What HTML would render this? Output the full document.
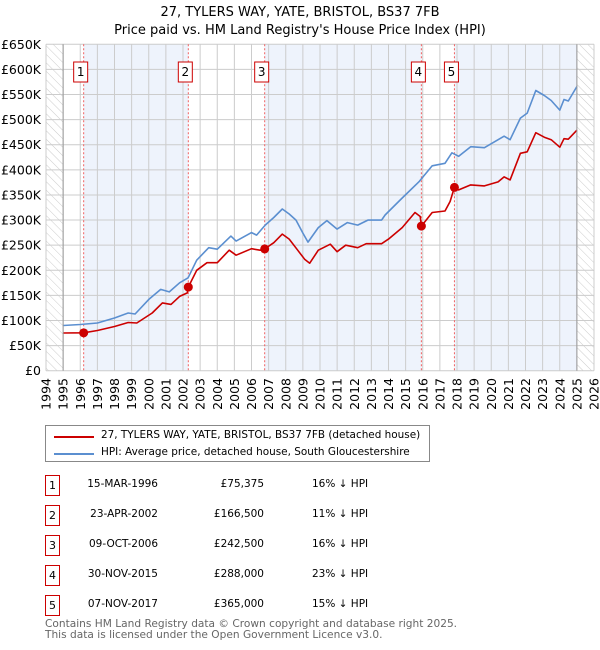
<!DOCTYPE html>
<html><head><meta charset="utf-8"><style>
body{margin:0;background:#fff;font-family:"DejaVu Sans","Liberation Sans",sans-serif;}
#wrap{position:relative;width:600px;height:650px;overflow:hidden;}
.t{position:absolute;font-size:10.5px;color:#000;white-space:nowrap;}
</style></head><body>
<div id="wrap">
<svg id="chart" width="600" height="420" style="position:absolute;left:0;top:0">
<defs><pattern id="hatch" width="6" height="6" patternUnits="userSpaceOnUse" patternTransform="rotate(-45)"><line x1="0" y1="0" x2="0" y2="6" stroke="#ccc" stroke-width="1"/></pattern></defs>
<text x="300" y="16" text-anchor="middle" font-size="13" font-family="DejaVu Sans, sans-serif">27, TYLERS WAY, YATE, BRISTOL, BS37 7FB</text>
<text x="300" y="34" text-anchor="middle" font-size="13" font-family="DejaVu Sans, sans-serif">Price paid vs. HM Land Registry's House Price Index (HPI)</text>
<g id="bg"></g><g id="grid"></g><g id="vlines"></g><g id="series"></g><g id="axes"></g>
</svg>
<div class="t" style="left:45px;top:425px;width:383px;height:35px;border:1px solid #888;">
 <div style="position:absolute;left:8px;top:10px;width:40px;height:2px;background:#cc0000"></div>
 <div style="position:absolute;left:55px;top:3px;font-size:10.45px">27, TYLERS WAY, YATE, BRISTOL, BS37 7FB (detached house)</div>
 <div style="position:absolute;left:8px;top:27px;width:40px;height:2px;background:#5b8fd0"></div>
 <div style="position:absolute;left:55px;top:20px;font-size:10.45px">HPI: Average price, detached house, South Gloucestershire</div>
</div>
<div id="table"></div>
<div class="t" style="left:45px;top:619px;color:#666;font-size:10.6px;line-height:11px">Contains HM Land Registry data © Crown copyright and database right 2025.<br>This data is licensed under the Open Government Licence v3.0.</div>
</div>
<script>
const hpiYears=[1995,1996,1997,1998,1998.8,1999.2,2000,2000.7,2001.2,2001.8,2002.3,2002.8,2003.5,2004,2004.8,2005.1,2006,2006.3,2006.8,2007.3,2007.8,2008.2,2008.6,2009.0,2009.3,2009.9,2010.4,2011.0,2011.6,2012.2,2012.8,2013.6,2013.8,2014.8,2015.8,2016.55,2017.3,2017.7,2018.1,2018.8,2019.6,2020.75,2021.1,2021.7,2022.1,2022.6,2023.1,2023.5,2024.0,2024.25,2024.5,2025.0];
const hpiValues=[90,92,95,105,115,113,142,162,157,175,185,220,245,242,268,258,275,270,290,305,322,312,300,274,256,285,299,282,295,290,300,300,310,344,377,408,413,434,427,446,444,467,460,503,513,558,548,538,519,540,537,566];
const priceYears=[1995,1996.2,1997,1998,1998.8,1999.3,2000.2,2000.8,2001.3,2001.8,2002.25,2002.31,2002.8,2003.4,2004,2004.7,2005.1,2006,2006.5,2006.77,2007.3,2007.8,2008.2,2008.7,2009.1,2009.4,2009.9,2010.6,2011.0,2011.5,2012.2,2012.7,2013.6,2014.0,2014.8,2015.55,2015.85,2015.92,2016.55,2017.3,2017.6,2017.85,2018.1,2018.8,2019.6,2020.4,2020.75,2021.1,2021.7,2022.1,2022.6,2023.1,2023.5,2024.0,2024.25,2024.5,2025.0];
const priceValues=[75,75.4,80,88,96,95,115,135,132,148,155,166.5,200,215,215,240,230,243,240,242.5,255,272,262,240,222,214,240,252,237,250,245,253,253,262,285,315,307,288,315,318,337,365,360,370,368,376,386,380,433,436,474,465,460,445,462,461,479];
const saleYears=[1996.2,2002.31,2006.77,2015.92,2017.85];
const saleValues=[75.375,166.5,242.5,288,365];
const saleLabels=["1","2","3","4","5"];
const saleDates=["15-MAR-1996","23-APR-2002","09-OCT-2006","30-NOV-2015","07-NOV-2017"];
const salePrices=["£75,375","£166,500","£242,500","£288,000","£365,000"];
const saleDiffs=["16% ↓ HPI","11% ↓ HPI","16% ↓ HPI","23% ↓ HPI","15% ↓ HPI"];
const yTicks=[0,50,100,150,200,250,300,350,400,450,500,550,600,650];
const yTickLabels=["£0","£50K","£100K","£150K","£200K","£250K","£300K","£350K","£400K","£450K","£500K","£550K","£600K","£650K"];
const xTicks=[1994,1995,1996,1997,1998,1999,2000,2001,2002,2003,2004,2005,2006,2007,2008,2009,2010,2011,2012,2013,2014,2015,2016,2017,2018,2019,2020,2021,2022,2023,2024,2025,2026];

const NS="http://www.w3.org/2000/svg";
const X0=46,X1=594,Y0=370.7,Y1=44.3;
const xs=y=>X0+(y-1994)*(X1-X0)/32;
const ys=v=>Y0-(v)*(Y0-Y1)/650;
function mk(tag,attrs,parent){const e=document.createElementNS(NS,tag);for(const k in attrs)e.setAttribute(k,attrs[k]);parent.appendChild(e);return e;}
const bg=document.getElementById('bg'),grid=document.getElementById('grid'),vl=document.getElementById('vlines'),se=document.getElementById('series'),ax=document.getElementById('axes');
let h1=mk('rect',{x:X0,y:Y1,width:xs(1995)-X0,height:Y0-Y1,fill:'url(#hatch)'},bg);


let h2=mk('rect',{x:xs(2025),y:Y1,width:X1-xs(2025),height:Y0-Y1,fill:'url(#hatch)'},bg);


const bandEnds=saleYears.concat([2025]);
for(let i=0;i<saleYears.length;i+=2){
  let r=mk('rect',{x:xs(saleYears[i]),y:Y1,width:xs(bandEnds[i+1])-xs(saleYears[i]),height:Y0-Y1,fill:'#eef3fc'},bg);
  
  
}
yTicks.forEach((v,i)=>{
  let l=mk('line',{x1:X0,x2:X1,y1:ys(v),y2:ys(v),stroke:'#ccc','stroke-width':1},grid);
  
  
  let t=mk('text',{x:41,y:ys(v)+4.5,'text-anchor':'end','font-size':12.5,'font-family':'DejaVu Sans, sans-serif'},ax);
  t.textContent=yTickLabels[i];
  
  
});
xTicks.forEach(y=>{
  let l=mk('line',{x1:xs(y),x2:xs(y),y1:Y1,y2:Y0,stroke:'#ccc','stroke-width':1},grid);
  
  
  let t=mk('text',{x:0,y:0,'text-anchor':'end','font-size':12.5,'font-family':'DejaVu Sans, sans-serif',transform:`translate(${xs(y)+4.5},378) rotate(-90)`},ax);
  t.textContent=y;
  
  
});
let b1=mk('line',{x1:xs(1995),x2:xs(1995),y1:Y1,y2:Y0,stroke:'#999','stroke-width':1},ax);


let b2=mk('line',{x1:xs(2025),x2:xs(2025),y1:Y1,y2:Y0,stroke:'#999','stroke-width':1},ax);


saleYears.forEach((y,i)=>{
  let l=mk('line',{x1:xs(y),x2:xs(y),y1:Y1,y2:Y0,stroke:'#f06060','stroke-width':1,'stroke-dasharray':'2,2'},vl);
  
  
  let r=mk('rect',{x:xs(y)-10,y:62,width:14,height:20,fill:'#fff',stroke:'#cc0000','stroke-width':1},vl);
  
  
  let t=mk('text',{x:xs(y)-3,y:76,'text-anchor':'middle','font-size':12,'font-family':'DejaVu Sans, sans-serif'},vl);
  t.textContent=saleLabels[i];
  
  
});
function path(xa,va,col,name){
  let d=xa.map((y,i)=>(i?'L':'M')+xs(y).toFixed(1)+','+ys(va[i]).toFixed(1)).join('');
  let p=mk('path',{d:d,fill:'none',stroke:col,'stroke-width':1.6,'stroke-linejoin':'round'},se);
  
  
}
path(hpiYears,hpiValues,'#5b8fd0','hpi-line');
path(priceYears,priceValues,'#cc0000','price-line');
saleYears.forEach((y,i)=>{
  let c=mk('circle',{cx:xs(y),cy:ys(saleValues[i]),r:4.5,fill:'#cc0000'},se);
  
  
});
const tb=document.getElementById('table');
saleLabels.forEach((l,i)=>{
  const top=475+i*30;
  const row=document.createElement('div');
  
  
  row.innerHTML=`<div class="t" style="left:45px;top:${top}px;width:13px;height:19px;border:1px solid #cc0000;text-align:center;line-height:19px;font-size:11px">${l}</div>
<div class="t" style="left:68px;width:90px;top:${top+3}px;text-align:right">${saleDates[i]}</div>
<div class="t" style="left:170px;width:94px;top:${top+3}px;text-align:right">${salePrices[i]}</div>
<div class="t" style="left:312px;top:${top+3}px">${saleDiffs[i]}</div>`;
  tb.appendChild(row);
});
</script>
</body></html>
